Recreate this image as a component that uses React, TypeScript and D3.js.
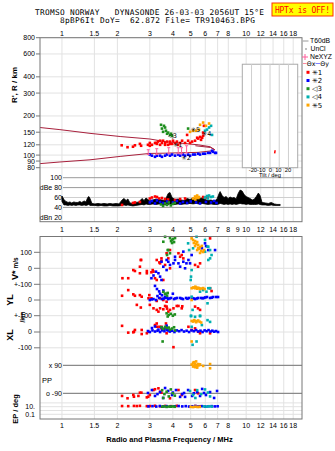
import React from 'react';
import * as d3 from 'd3';

// ---------- ticks / categories ----------
const FREQ_TICKS = [1, 1.5, 2, 3, 4, 5, 6, 7, 8, 10, 12, 14, 16, 18];
const FREQ_TICKS_MID = [1, 1.5, 2, 3, 4, 5, 6, 7, 8, 9, 10, 12, 14, 16, 18];
const R_TICKS = [800, 600, 400, 300, 200, 150, 120, 100, 90, 80];
const DB_TICK_VALUES = [100, 80, 60, 40, 20];
const DB_TICK_LABELS = ['100', 'dBe 80', '60', '40', 'dBn 20'];
const TILT_TICKS = [-20, -10, 0, 10, 20];
const SERIES_NAMES = ['✳1', '✳2', '◁3', '◁4', '✳5'];
const SERIES_COLORS = ['#ff0000', '#0000ff', '#1f8f1f', '#00b0b0', '#ffa500'];

// ---------- R' / R panel (freq MHz, height km) ----------
const R_S1 = [[2.11,119],[2.27,115],[2.43,116],[2.49,119],[2.65,122],[2.69,118],[2.93,120],[3.0,124],[3.0,118],[3.08,120],[3.2,124],[3.24,124],[3.28,122],[3.32,127],[3.41,120],[3.41,129],[3.49,124],[3.54,129],[3.63,124],[3.63,120],[3.72,127],[3.77,120],[3.86,127],[3.86,122],[3.96,122],[4.01,129],[4.11,124],[4.21,127],[4.27,120],[4.38,124],[4.49,129],[4.66,124],[4.78,143],[4.84,129],[4.96,124],[5.09,127],[5.28,129],[5.42,136],[5.49,134],[5.62,138],[5.69,131],[5.77,136],[5.84,141],[5.84,149],[5.9,168]];
const R_S2 = [[3.0,101],[3.08,99],[3.2,97],[3.28,99],[3.41,99],[3.49,97],[3.63,99],[3.72,101],[3.86,99],[3.96,101],[4.11,99],[4.27,101],[4.38,99],[4.54,101],[4.66,99],[4.84,101],[4.96,99],[5.15,101],[5.28,101],[5.49,102.5],[5.62,101],[5.84,102.5],[5.98,102.5],[6.21,104],[6.37,104],[6.53,108],[6.61,106],[6.78,104],[6.86,104]];
const R_S3 = [[3.45,171],[3.49,160],[3.54,151],[3.58,168],[3.63,163],[3.67,154],[3.72,146],[3.77,149],[3.86,143],[3.91,146],[3.96,141],[4.84,160]];
const R_S4 = [[5.98,154],[6.13,157],[6.29,163],[6.45,168],[6.53,143]];
const R_S5 = [[4.96,151],[5.15,154],[5.35,154],[5.55,157],[5.62,171],[5.84,178],[6.05,168],[6.29,175]];
const R_MARK_TEXT = ['✳1', '✳2', '◁3', '✳5', '✳4'];
const R_MARK_POS = [[4.25,120],[4.72,95.5],[3.98,141],[5.3,157],[6.1,145]];
const NE_F = [2.94, 3.27, 3.80, 4.28, 4.46, 4.75];
const NE_LO = [101, 101, 102.5, 102.5, 102.5, 104];
const NE_HI = [110, 112, 114, 114, 114, 118];
const CURVE_UP = [[0.76,163],[0.975,157],[1.42,147],[2.07,139],[3.0,133],[3.63,127],[5.49,120],[6.37,116],[6.75,110]];
const CURVE_UP2 = [[5.3,118],[6.4,114.5],[6.75,110]];
const CURVE_LO = [[0.76,86],[0.975,88.5],[1.42,92],[2.07,97.7],[3.0,103],[3.63,103.5],[5.49,105],[6.37,107.5],[6.75,110]];
const TILT_PTS = [[5,103],[5.3,106],[5.5,109]];

// ---------- amplitude panel ----------
const DB_F = [1.0,1.025,1.05,1.08,1.105,1.13,1.16,1.19,1.22,1.25,1.28,1.32,1.35,1.38,1.40,1.42,1.455,1.51,1.57,1.63,1.69,1.76,1.82,1.89,1.97,2.04,2.12,2.17,2.23,2.28,2.34,2.43,2.52,2.62,2.72,2.79,2.86,2.93,3.0,3.12,3.24,3.37,3.49,3.63,3.77,3.86,3.96,4.11,4.27,4.43,4.60,4.78,4.96,5.15,5.35,5.55,5.77,5.98,6.21,6.45,6.70,6.95,7.13,7.22,7.41,7.59,7.78,7.98,8.18,8.39,8.60,8.82,9.05,9.27,9.51,9.75,10.0,10.25,10.5,10.8,11.1,11.35,11.65,11.9,12.2,12.7,13.2,13.7,14.2,14.7,15.3];
const DB_HI = [63,56,52,50,51,49,51,50,50,52,50,53,51,60,62,58,48,47,48,47,48,47,48,47,48,47,55,58,54,57,49,48,50,51,58,54,59,56,53,55,57,56,55,54,68,70,60,56,57,55,54,58,56,59,57,58,59,56,54,55,52,57,68,72,64,60,62,58,61,59,60,57,68,75,73,66,62,60,58,55,57,62,69,64,50,49,48,50,47,46,46];
const DB_LO = [52,45,45,44,45,44,45,44,45,45,44,45,44,45,46,44,44,44,43,44,43,43,44,43,43,43,44,45,44,45,44,43,44,45,46,45,47,46,46,47,46,47,46,45,46,47,46,46,47,46,47,47,48,47,48,47,48,47,46,47,46,46,47,48,47,46,47,46,47,46,47,46,47,48,47,47,46,47,46,46,46,46,47,46,45,45,44,45,44,44,44];
const A_S1 = [[2.12,45],[2.43,49],[2.49,50],[2.65,51],[3.0,58],[3.08,60],[3.2,62],[3.28,61],[3.37,58],[3.49,59],[3.63,57],[3.77,56],[4.11,55],[4.38,57],[4.66,58],[5.84,61],[6.05,60],[6.21,62]];
const A_S2 = [[3.0,50],[3.08,53],[3.2,48],[3.28,54],[3.41,51],[3.54,49],[3.72,52],[4.01,50],[4.21,53],[4.38,48],[4.54,51],[4.78,49],[5.0,52],[5.35,50],[5.62,48],[6.05,51],[6.45,50],[6.7,53],[6.9,49]];
const A_S3 = [[3.45,46],[3.54,43],[3.63,48],[3.72,45],[3.8,50],[3.9,44],[4.0,47],[4.1,49]];
const A_S4 = [[5.98,60],[6.13,63],[6.29,64],[6.45,61],[6.6,62],[6.2,58]];
const A_S5 = [[5.15,58],[5.28,62],[5.35,60],[5.42,64],[5.5,59],[5.55,61],[5.3,56]];

// ---------- V* (m/s) ----------
const V_S1 = [[2.13,-62],[2.29,-62],[2.44,-11],[2.49,-17],[2.65,10],[2.65,-31],[2.68,52],[2.69,52],[2.89,-17],[2.89,-31],[3.06,-25],[3.11,-11],[3.14,-21],[3.2,-62],[3.27,52],[3.27,-73],[3.38,37],[3.41,31],[3.47,46],[3.47,62],[3.55,-73],[3.63,21],[3.7,94],[3.78,62],[3.86,114],[3.86,0],[4.29,94],[4.38,72],[4.47,83],[4.56,62],[5.28,21],[5.48,10],[5.62,31],[6.37,187]];
const V_S2 = [[3.06,-62],[3.14,-45],[3.24,-21],[3.34,-31],[3.41,-52],[3.47,41],[3.47,-73],[3.55,10],[3.7,52],[3.7,-11],[3.78,41],[3.86,21],[4.03,31],[4.11,72],[4.11,52],[4.29,31],[4.38,10],[4.56,41],[4.56,104],[4.66,0],[4.74,31],[4.86,52],[4.96,31],[5.06,83],[5.75,125],[5.98,156],[6.06,139],[6.23,114],[6.78,114]];
const V_S3 = [[3.55,166],[3.63,197],[3.72,83],[3.75,114],[3.78,114],[3.86,189],[3.86,94],[3.91,170],[3.96,177],[3.96,158],[4.01,183],[4.06,164],[4.11,189]];
const V_S4 = [[4.84,156],[4.9,114],[5.0,-73],[5.02,-52],[5.06,-11],[5.15,125],[5.38,197],[5.98,177],[5.98,104],[6.17,135],[6.23,135],[6.23,52],[6.37,114],[6.37,62],[6.49,83]];
const V_S5 = [[5.06,187],[5.15,177],[5.2,158],[5.28,170],[5.28,139],[5.35,152],[5.42,164],[5.42,114],[5.49,146],[5.49,127],[5.55,121],[5.62,133],[5.62,96],[5.7,108],[5.75,140],[5.84,102],[5.9,114]];

// ---------- YL (/km) ----------
const Y_S1 = [[2.12,27],[2.29,63],[2.44,36],[2.49,27],[2.55,-31],[2.65,31],[2.68,-48],[2.71,21],[2.95,11],[2.98,31],[3.0,-31],[3.06,11],[3.14,-53],[3.27,-6],[3.27,-63],[3.34,-74],[3.41,11],[3.41,-53],[3.55,0],[3.55,-59],[3.63,-38],[3.7,-11],[3.7,-42],[3.72,-55],[3.78,-74],[3.86,-63],[4.03,-53],[4.2,-38],[4.29,-38],[4.47,-53],[4.5,-40],[5.28,-42],[5.48,-53],[5.62,-63],[6.37,75],[6.49,57]];
const Y_S2 = [[3.0,0],[3.07,4],[3.14,6],[3.24,0],[3.37,13],[3.49,6],[3.56,9],[3.63,13],[3.77,6],[3.84,10],[3.91,13],[4.06,6],[4.13,10],[4.21,13],[4.38,13],[4.46,9],[4.54,6],[4.72,13],[4.8,8],[4.9,13],[5.09,13],[5.18,10],[5.28,6],[5.4,10],[5.49,13],[5.7,13],[5.8,11],[5.9,13],[6.0,16],[6.13,19],[6.37,13],[6.5,15],[6.61,19],[6.86,19],[7.04,19],[3.2,90],[3.28,70],[3.37,55],[3.41,40],[3.49,30],[3.55,60],[3.63,20],[3.3,25],[4.0,40],[3.72,15]];
const Y_S3 = [[3.55,52],[3.63,38],[3.65,40],[3.72,28],[3.75,45],[3.7,-85],[3.75,-105],[3.8,-95],[3.9,-88],[4.0,-100],[4.1,-92]];
const Y_S4 = [[5.02,-100],[5.06,21],[5.12,-63],[5.62,53],[5.62,-100],[5.84,63],[6.09,53],[6.17,-21],[6.23,75],[6.37,75]];
const Y_S5 = [[5.06,75],[5.06,0],[5.15,80],[5.22,78],[5.28,75],[5.3,85],[5.35,80],[5.42,72],[5.49,78],[5.55,75],[5.62,70],[5.7,73],[5.84,76],[5.95,70]];

// ---------- XL (/km) ----------
const X_S1 = [[2.12,39],[2.29,-4],[2.44,-2],[2.46,2],[2.49,13],[2.71,13],[2.71,-13],[2.89,-8],[2.94,2],[3.2,44],[3.27,54],[3.27,33],[3.38,33],[3.47,23],[3.47,33],[3.67,54],[3.7,-8],[3.7,23],[4.03,-96],[4.86,33],[5.06,13],[5.28,23],[5.48,2],[5.62,-8],[6.37,-8]];
const X_S2 = [[2.93,6],[3.0,0],[3.1,10],[3.2,3],[3.3,8],[3.41,0],[3.5,10],[3.6,5],[3.72,12],[3.85,3],[3.96,8],[4.08,0],[4.2,10],[4.33,5],[4.46,12],[4.6,3],[4.75,8],[4.9,0],[5.05,10],[5.2,5],[5.35,12],[5.5,3],[5.65,8],[5.8,0],[5.95,10],[6.1,5],[6.25,12],[6.4,3],[6.55,8],[6.7,2],[6.86,6],[7.04,0],[3.08,25],[3.2,35],[3.34,15],[3.47,30],[3.6,20],[3.7,40],[3.78,10]];
const X_S3 = [[3.47,30],[3.52,-60],[3.55,20],[3.63,33],[3.72,25],[3.8,28],[3.86,15],[3.96,22],[4.06,30],[4.11,10]];
const X_S4 = [[5.02,100],[5.06,33],[5.12,-81],[5.28,96],[5.38,-60],[5.62,100],[5.75,44],[6.17,75],[6.37,64]];
const X_S5 = [[5.06,70],[5.06,-60],[5.15,66],[5.22,75],[5.28,70],[5.35,62],[5.42,68],[5.49,73],[5.6,65],[5.7,60]];

// ---------- PP (deg) ----------
const P_S1 = [[2.12,-107],[2.27,-122],[2.44,-100],[2.46,-112],[2.6,-107],[2.65,-86],[2.7,-86],[2.89,-116],[2.94,-112],[3.0,-101],[3.14,-69],[3.2,-64],[3.34,-58],[3.41,-80],[3.47,-86],[3.86,-122],[4.29,-69],[4.47,-101],[5.28,-69],[5.48,-90]];
const P_S2 = [[2.93,-88],[3.08,-69],[3.2,-107],[3.3,-95],[3.41,-82],[3.54,-120],[3.63,-56],[3.77,-75],[3.96,-101],[4.0,-85],[4.16,-69],[4.38,-113],[4.5,-95],[4.6,-88],[4.66,-113],[4.84,-69],[5.09,-107],[5.2,-90],[5.42,-82],[5.62,-107],[5.77,-62],[5.9,-88],[6.05,-101],[6.37,-82],[6.7,-120],[6.95,-75]];
const P_S3 = [[3.5,-70],[3.55,-120],[3.6,-95],[3.7,-80],[3.8,-110],[3.9,-65],[4.0,-90],[4.1,-105]];
const P_S4 = [[4.96,-75],[5.15,-100],[5.3,-120],[5.42,-70],[5.7,-95],[5.98,-65],[6.2,-85],[6.37,-110]];
const P_S5 = [[5.06,95],[5.15,105],[5.15,82],[5.2,110],[5.22,88],[5.28,100],[5.28,78],[5.35,92],[5.35,115],[5.42,85],[5.42,75],[5.49,98],[5.55,90],[5.62,96],[5.84,86],[6.37,98],[6.37,71]];

// ---------- EP (deg, log) ----------
const E_S1 = [[2.12,15],[2.29,14],[2.46,16],[2.55,15],[2.65,17],[2.89,14],[3.0,15],[3.2,18],[3.41,13],[3.63,16],[3.9,14],[4.2,17],[5.3,15],[5.6,13]];
const E_S2 = [[2.95,12],[3.1,14],[3.25,11],[3.4,15],[3.55,12],[3.7,14],[3.9,11],[4.1,13],[4.3,15],[4.5,12],[4.7,14],[4.9,11],[5.1,13],[5.3,15],[5.5,12],[5.75,14],[6.0,11],[6.25,13],[6.5,14],[6.75,12],[7.0,13]];
const E_S3 = [[3.5,10],[3.6,12],[3.7,9],[3.8,11],[3.9,10],[4.0,12],[4.1,9.5]];
const E_S4 = [[5.9,12],[6.1,10],[6.3,13],[6.5,11]];
const E_S5 = [[5.0,9],[5.15,8],[5.3,10],[5.45,8.5],[5.6,9]];

const LOW_TICK_BAND = ['V', 'V', 'V', 'Y', 'Y', 'X', 'X'];
const LOW_TICK_VAL = [100, 0, -100, 0, -100, 0, -100];
const LOW_TICK_TEXT = ['100', '0', '+-100', '0', '+-100', '0', '-100'];

const SANS = 'Liberation Sans, Arial, sans-serif';
const MONO = 'DejaVu Sans Mono, monospace';

export default function App() {
  const fx = d3.scaleLog().domain([0.76, 20.1]).range([40, 302]);
  const yR = d3.scaleLog().domain([80, 800]).range([167.7, 37.7]);
  const yDB = d3.scaleLinear().domain([20, 100]).range([217.3, 177.7]);
  const xT = d3.scaleLinear().domain([-30, 30]).range([242.3, 297.7]);
  const yV = d3.scaleLinear().domain([0, 100]).range([268.3, 252.3]);
  const yY = d3.scaleLinear().domain([0, 100]).range([300, 284.3]);
  const yX = d3.scaleLinear().domain([0, 100]).range([332, 316.2]);
  const yP = d3.scaleLinear().domain([-90, 90]).range([393.3, 365.3]);
  const yE = d3.scaleLog().domain([0.1, 10]).range([414.3, 406.7]);
  const lowScale: Record<string, any> = { V: yV, Y: yY, X: yX };

  const L = 40, Rr = 302;
  const T1 = 37.7, B1 = 221.7, T2 = 236.5, B2 = 419;

  const rSets = [R_S1, R_S2, R_S3, R_S4, R_S5];
  const aSets = [A_S1, A_S2, A_S3, A_S4, A_S5];
  const vSets = [V_S1, V_S2, V_S3, V_S4, V_S5];
  const ySets = [Y_S1, Y_S2, Y_S3, Y_S4, Y_S5];
  const xSets = [X_S1, X_S2, X_S3, X_S4, X_S5];
  const pSets = [P_S1, P_S2, P_S3, P_S4, P_S5];
  const eSets = [E_S1, E_S2, E_S3, E_S4, E_S5];

  const line = d3.line<number[]>().x(d => fx(d[0])).y(d => yR(d[1]));
  const area = d3.area<number>()
    .x(i => fx(DB_F[i]))
    .y0(i => yDB(DB_LO[i]))
    .y1(i => yDB(DB_HI[i]));

  const S = 2.6;
  const dots = (sets: number[][][], ys: (v: number) => number, key: string) =>
    sets.map((pts, si) =>
      pts.map((d, i) => (
        <rect key={`${key}${si}-${i}`} x={fx(d[0]) - S / 2} y={ys(d[1]) - S / 2}
          width={S} height={S} fill={SERIES_COLORS[si]} />
      )));

  const grid = '#e2e2e2';

  return (
    <svg width={335} height={451} style={{ position: 'absolute', left: 0, top: 0, background: '#fff' }}
      fontFamily={SANS}>
      <rect x={0} y={0} width={335} height={451} fill="#fff" />
      {/* header */}
      <text x={35} y={14.5} fontFamily={MONO} fontSize={7.8} textLength={229} style={{ whiteSpace: 'pre' }}>
        {'TROMSO NORWAY   DYNASONDE 26-03-03 2056UT 15°E'}
      </text>
      <text x={60} y={23} fontFamily={MONO} fontSize={7.8} textLength={195} style={{ whiteSpace: 'pre' }}>
        {'8pBP6It DoY=  62.872 File= TR910463.BPG'}
      </text>
      <rect x={272} y={3} width={61} height={13} fill="#ffff00" stroke="#ff3000" strokeWidth={1} />
      <text x={302.5} y={12.8} fontFamily={MONO} fontSize={8} fill="#ff0000" textAnchor="middle"
        textLength={55} style={{ whiteSpace: 'pre' }}>HPTx is OFF!</text>

      {/* vertical grid */}
      {FREQ_TICKS.map(f => (
        <g key={`vg${f}`}>
          <line x1={fx(f)} x2={fx(f)} y1={T1} y2={B1} stroke={grid} strokeWidth={1} />
          <line x1={fx(f)} x2={fx(f)} y1={T2} y2={B2} stroke={grid} strokeWidth={1} />
        </g>
      ))}
      {/* R grid */}
      {R_TICKS.map(v => (
        <g key={`rg${v}`}>
          <line x1={L} x2={Rr} y1={yR(v)} y2={yR(v)} stroke={grid} />
          <line x1={36} x2={L} y1={yR(v)} y2={yR(v)} stroke="#777" />
          <text x={35} y={yR(v)} dy="0.35em" fontSize={7} textAnchor="end">{v}</text>
        </g>
      ))}
      {/* dB grid */}
      {DB_TICK_VALUES.map((v, i) => (
        <g key={`dg${v}`}>
          {v > 20 && <line x1={63} x2={Rr} y1={yDB(v)} y2={yDB(v)} stroke={v === 60 ? '#cfcfcf' : '#9a9a9a'} strokeWidth={1} />}
          <text x={62} y={yDB(v)} dy="0.35em" fontSize={7} textAnchor="end">{DB_TICK_LABELS[i]}</text>
        </g>
      ))}
      {/* frequency axis labels */}
      {FREQ_TICKS.map(f => (
        <text key={`tt${f}`} x={fx(f)} y={36} fontSize={7} textAnchor="middle">{f}</text>
      ))}
      {FREQ_TICKS_MID.map(f => (
        <text key={`mt${f}`} x={fx(f)} y={232} fontSize={7} textAnchor="middle">{f}</text>
      ))}
      {FREQ_TICKS.map(f => (
        <text key={`bt${f}`} x={fx(f)} y={428} fontSize={7} textAnchor="middle">{f}</text>
      ))}

      {/* tilt inset */}
      <rect x={xT(-30)} y={yR(500)} width={xT(30) - xT(-30)} height={yR(80) - yR(500)} fill="#fff" stroke="#aaa" />
      {TILT_TICKS.map(t => (
        <line key={`tg${t}`} x1={xT(t)} x2={xT(t)} y1={yR(500)} y2={yR(80)} stroke="#cfcfcf" />
      ))}
      <text x={270} y={172.2} fontSize={5.8} textAnchor="middle" style={{ whiteSpace: 'pre' }}>{'-20-10  0  10  20'}</text>
      <text x={270} y={177} fontSize={5.8} textAnchor="middle">Tilt / deg</text>
      <path d={d3.line<number[]>().x(d => xT(d[0])).y(d => yR(d[1]))(TILT_PTS) || ''} stroke="#ff0000" strokeWidth={1.5} fill="none" />

      {/* model curves */}
      <path d={line(CURVE_UP) || ''} stroke="#a8203c" strokeWidth={1} fill="none" />
      <path d={line(CURVE_UP2) || ''} stroke="#a8203c" strokeWidth={1} fill="none" />
      <path d={line(CURVE_LO) || ''} stroke="#a8203c" strokeWidth={1} fill="none" />

      {/* R points */}
      {dots(rSets, yR, 'r')}
      {/* NeXYZ bars */}
      {NE_F.map((f, i) => (
        <g key={`ne${i}`} stroke="#ff5c9a" strokeWidth={1}>
          <line x1={fx(f)} x2={fx(f)} y1={yR(NE_LO[i])} y2={yR(NE_HI[i])} />
          <line x1={fx(f) - 1.5} x2={fx(f) + 1.5} y1={yR(NE_LO[i])} y2={yR(NE_LO[i])} />
          <line x1={fx(f) - 1.5} x2={fx(f) + 1.5} y1={yR(NE_HI[i])} y2={yR(NE_HI[i])} />
        </g>
      ))}
      {R_MARK_TEXT.map((t, i) => (
        <text key={`rm${i}`} x={fx(R_MARK_POS[i][0])} y={yR(R_MARK_POS[i][1])} dy="0.35em"
          fontSize={6.5} fontFamily="DejaVu Sans, sans-serif" textAnchor="middle">{t}</text>
      ))}

      {/* amplitude */}
      <path d={area(d3.range(DB_F.length)) || ''} fill="#000" stroke="#000" strokeWidth={0.8} />
      {dots(aSets, yDB, 'a')}

      {/* lower panel grid */}
      {LOW_TICK_BAND.map((b, i) => {
        const y = lowScale[b](LOW_TICK_VAL[i]);
        return (
          <g key={`lt${i}`}>
            <line x1={L} x2={Rr} y1={y} y2={y} stroke={grid} />
            <line x1={34} x2={L} y1={y} y2={y} stroke="#777" />
            <text x={32} y={y} dy="0.35em" fontSize={7} textAnchor="end">{LOW_TICK_TEXT[i]}</text>
          </g>
        );
      })}
      {[90, -90].map(v => (
        <g key={`pp${v}`}>
          <line x1={63} x2={Rr} y1={yP(v)} y2={yP(v)} stroke="#8a8a8a" strokeWidth={1.2} />
          <text x={62} y={yP(v)} dy="0.35em" fontSize={7} textAnchor="end">{v > 0 ? 'x 90' : 'o -90'}</text>
        </g>
      ))}
      <text x={47} y={380} dy="0.35em" fontSize={7.5} textAnchor="middle">PP</text>
      {[100, 10, 1, 0.1].map(v => (
        <line key={`ep${v}`} x1={L} x2={Rr} y1={yE(v)} y2={yE(v)} stroke={grid} />
      ))}
      <text x={35} y={yE(10)} dy="0.35em" fontSize={7} textAnchor="end">10.</text>
      <text x={35} y={yE(0.1) + 0.5} dy="0.35em" fontSize={7} textAnchor="end">0.1</text>

      {dots(vSets, yV, 'v')}
      {dots(ySets, yY, 'y')}
      {dots(xSets, yX, 'x')}
      {dots(pSets, yP, 'p')}
      {dots(eSets, yE, 'e')}

      {/* frames */}
      <rect x={L} y={T1} width={Rr - L} height={B1 - T1} fill="none" stroke="#777" strokeWidth={1} />
      <rect x={L} y={T2} width={Rr - L} height={B2 - T2} fill="none" stroke="#777" strokeWidth={1} />

      {/* axis titles */}
      <text transform="translate(17,85) rotate(-90)" fontSize={8} fontWeight="bold" textAnchor="middle">R', R / km</text>
      <text transform="translate(18,280) rotate(-90)" fontWeight="bold">
        <tspan fontSize={9}>V*</tspan><tspan fontSize={6.5} dx={2}>m/s</tspan>
      </text>
      <text transform="translate(12.5,300) rotate(-90)" fontSize={9} fontWeight="bold" textAnchor="middle">YL</text>
      <text transform="translate(24.5,317) rotate(-90)" fontSize={6.5} fontWeight="bold" textAnchor="middle">/km</text>
      <text transform="translate(12.5,335) rotate(-90)" fontSize={9} fontWeight="bold" textAnchor="middle">XL</text>
      <text transform="translate(17.5,409) rotate(-90)" fontSize={7.5} fontWeight="bold" textAnchor="middle">EP / deg</text>
      <text x={169.5} y={441.5} fontSize={7.5} fontWeight="bold" textAnchor="middle">Radio and Plasma Frequency / MHz</text>

      {/* legend */}
      <line x1={302.5} x2={308.5} y1={41} y2={41} stroke="#aaa" strokeWidth={1.2} />
      <text x={310} y={41} dy="0.35em" fontSize={6.8}>T60dB</text>
      <rect x={305.5} y={48.5} width={1} height={1} fill="#000" />
      <text x={310.5} y={49} dy="0.35em" fontSize={6.8}>UnCl</text>
      <g stroke="#ff5c9a" strokeWidth={1}>
        <line x1={302} x2={308} y1={57} y2={57} />
        <line x1={305} x2={305} y1={54} y2={60} />
      </g>
      <text x={310} y={57} dy="0.35em" fontSize={6.8}>NeXYZ</text>
      <line x1={303} x2={306.5} y1={63.5} y2={63.5} stroke="#ff8aa0" strokeWidth={1} />
      <text x={306.8} y={63.5} dy="0.35em" fontSize={6.3} fontFamily="DejaVu Sans, sans-serif">Θx</text>
      <line x1={315.5} x2={320} y1={63.5} y2={63.5} stroke="#8080ff" strokeWidth={1} />
      <text x={320.3} y={63.5} dy="0.35em" fontSize={6.3} fontFamily="DejaVu Sans, sans-serif">Θy</text>
      {SERIES_NAMES.map((n, i) => (
        <g key={`lg${i}`}>
          <rect x={306.5} y={72.3 + i * 8.2 - 1.5} width={3} height={3} fill={SERIES_COLORS[i]} />
          <text x={312} y={72.3 + i * 8.2} dy="0.35em" fontSize={7} fontFamily="DejaVu Sans, sans-serif">{n}</text>
        </g>
      ))}
    </svg>
  );
}
